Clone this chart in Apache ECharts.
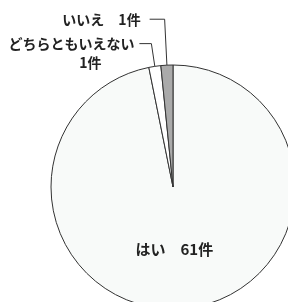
<!DOCTYPE html>
<html>
<head>
<meta charset="utf-8">
<script src="https://cdn.jsdelivr.net/npm/echarts@6/dist/echarts.min.js"></script>
<style>
  html, body { margin: 0; padding: 0; background: #fff; }
  #main { width: 288px; height: 302px; }
</style>
</head>
<body>
<div id="main"></div>
<script>
// 回答の分類と件数
var answers = ['はい', 'どちらともいえない', 'いいえ'];
var counts = [61, 1, 1];
var fills = ['#f8faf9', '#ffffff', '#aaaaaa'];

var myChart = echarts.init(document.getElementById('main'));

var font = '"Noto Sans CJK JP", "Noto Sans", sans-serif';

var data = [];
for (var i = 0; i < answers.length; i++) {
    data.push({ name: answers[i], value: counts[i], itemStyle: { color: fills[i] } });
}

// はい : 円の中
data[0].label = {
    position: 'inside',
    fontSize: 15,
    formatter: '{b}\u3000{c}件'
};
// どちらともいえない : 2行、引き出し線
data[1].label = {
    position: 'outside',
    distanceToLabelLine: 5,
    padding: [19, 0, 0, 0],
    formatter: '{a|{b}}\n{n|{c}件}',
    rich: {
        a: { fontSize: 14, fontWeight: 'bold', fontFamily: font, color: '#222', lineHeight: 19 },
        n: { fontSize: 14, fontWeight: 'bold', fontFamily: font, color: '#222', lineHeight: 19, padding: [0, 33, 0, 0] }
    }
};
data[1].labelLine = { show: true, length: 23, length2: 12 };
// いいえ
data[2].label = {
    position: 'outside',
    distanceToLabelLine: 9,
    formatter: '{b}\u3000{c}件'
};
data[2].labelLine = { show: true, length: 46, length2: 15 };

var option = {
    backgroundColor: '#ffffff',
    animation: false,
    series: [{
        type: 'pie',
        center: [173, 187],
        radius: 122,
        startAngle: 90,
        clockwise: true,
        avoidLabelOverlap: false,
        itemStyle: { borderColor: '#333', borderWidth: 1 },
        label: {
            fontFamily: font,
            fontSize: 14,
            fontWeight: 'bold',
            color: '#222'
        },
        labelLine: {
            lineStyle: { color: '#333', width: 1 },
            smooth: false
        },
        labelLayout: function (params) {
            if (params.dataIndex === 0) {
                return { dx: -5, dy: -1 };
            }
            return {};
        },
        emphasis: { disabled: true },
        data: data
    }]
};

myChart.setOption(option);
</script>
</body>
</html>
